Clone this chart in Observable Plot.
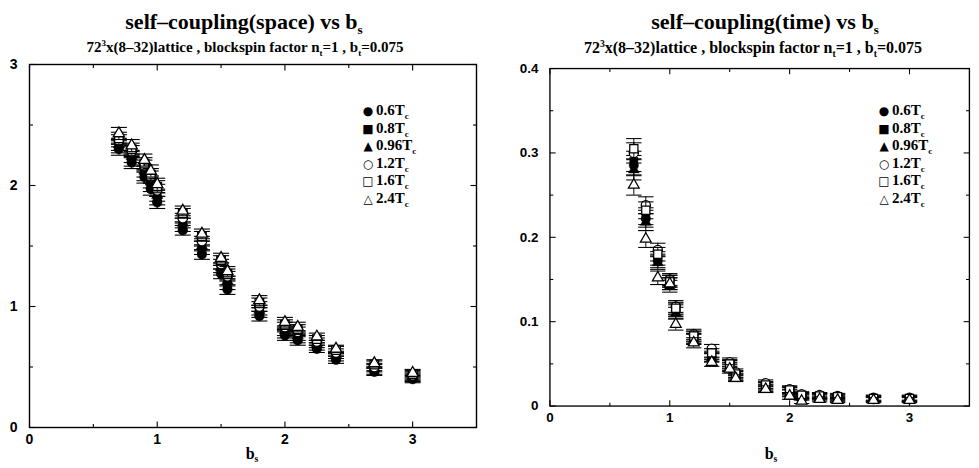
<!DOCTYPE html>
<html>
<head>
<meta charset="utf-8">
<script src="https://cdn.jsdelivr.net/npm/d3@7"></script>
<script src="https://cdn.jsdelivr.net/npm/@observablehq/plot@0.6"></script>
<style>
  html, body { margin: 0; padding: 0; background: #fff; }
  body { width: 979px; height: 468px; overflow: hidden; position: relative; }
  .panel { position: absolute; top: 0; }
  .ttl { position: absolute; font-family: "Liberation Serif", serif; font-weight: bold; white-space: nowrap; transform: translateX(-50%); line-height: 1; color: #000; }
  .ttl sub, .ttl sup, .leg sub { font-size: 60%; line-height: 0; }
  .xl { position: absolute; font-family: "Liberation Serif", serif; font-weight: bold; font-size: 16px; transform: translateX(-50%); line-height: 16px; white-space: nowrap; }
  .xl sub { font-size: 60%; line-height: 0; vertical-align: -3px; }
  .leg { position: absolute; font-family: "Liberation Serif", serif; font-weight: bold; font-size: 15px; line-height: 16.5px; white-space: nowrap; }
  .leg .s { display: inline-block; width: 12px; font-family: "DejaVu Sans", sans-serif; font-size: 12px; font-weight: normal; text-align: center; margin-right: 2px; }
</style>
</head>
<body>
<div id="left" class="panel" style="left:0px"></div>
<div id="right" class="panel" style="left:490px"></div>

<div class="ttl" style="left:244px;top:11px;font-size:22px">self–coupling(space) vs b<sub>s</sub></div>
<div class="ttl" style="left:245px;top:40px;font-size:15px">72<sup>3</sup>x(8–32)lattice , blockspin factor n<sub>t</sub>=1 , b<sub>t</sub>=0.075</div>
<div class="ttl" style="left:765px;top:11px;font-size:22px">self–coupling(time) vs b<sub>s</sub></div>
<div class="ttl" style="left:753px;top:40px;font-size:16px">72<sup>3</sup>x(8–32)lattice , blockspin factor n<sub>t</sub>=1 , b<sub>t</sub>=0.075</div>
<div class="xl" style="left:252px;top:446px">b<sub>s</sub></div>
<div class="xl" style="left:771px;top:446px">b<sub>s</sub></div>
<div id="legL" class="leg" style="left:362px;top:102px"></div>
<div id="legR" class="leg" style="left:878px;top:102px"></div>

<script>
// ---------- data ----------
const temps = ["0.6", "0.8", "0.96", "1.2", "1.6", "2.4"];
const legendGlyphs = ["●", "■", "▲", "○", "□", "△"];

const xTicks = [0, 1, 2, 3];
const xMinor = [0.5, 1.5, 2.5];
const spaceYTicks = [0, 1, 2, 3];
const spaceYMinor = [0.5, 1.5, 2.5];
const timeYTicks = [0, 0.1, 0.2, 0.3, 0.4];
const timeYMinor = [0.05, 0.15, 0.25, 0.35];

// self-coupling (space)
const spaceB = [0.7, 0.8, 0.9, 0.95, 1.0, 1.2, 1.35, 1.5, 1.55, 1.8, 2.0, 2.1, 2.25, 2.4, 2.7, 3.0];
const space_06  = [2.30, 2.19, 2.07, 1.97, 1.86, 1.63, 1.43, 1.27, 1.14, 0.92, 0.76, 0.72, 0.65, 0.56, 0.46, 0.40];
const space_08  = [2.32, 2.21, 2.09, 2.00, 1.89, 1.66, 1.47, 1.30, 1.18, 0.95, 0.78, 0.74, 0.67, 0.58, 0.47, 0.41];
const space_096 = [2.34, 2.24, 2.12, 2.03, 1.92, 1.69, 1.50, 1.32, 1.21, 0.97, 0.80, 0.76, 0.69, 0.60, 0.49, 0.42];
const space_12  = [2.37, 2.28, 2.16, 2.07, 1.96, 1.73, 1.54, 1.35, 1.25, 1.00, 0.83, 0.79, 0.71, 0.62, 0.50, 0.43];
const space_16  = [2.39, 2.30, 2.18, 2.09, 1.99, 1.77, 1.58, 1.38, 1.27, 1.03, 0.85, 0.81, 0.73, 0.64, 0.52, 0.44];
const space_24  = [2.43, 2.33, 2.21, 2.12, 2.01, 1.79, 1.60, 1.40, 1.29, 1.05, 0.87, 0.83, 0.75, 0.65, 0.53, 0.45];
const space_err = [0.05, 0.05, 0.05, 0.05, 0.05, 0.04, 0.04, 0.04, 0.04, 0.04, 0.04, 0.04, 0.03, 0.03, 0.03, 0.03];

// self-coupling (time)
const timeB = [0.7, 0.8, 0.9, 1.0, 1.05, 1.2, 1.35, 1.5, 1.55, 1.8, 2.0, 2.1, 2.25, 2.4, 2.7, 3.0];
const time_06  = [0.285, 0.222, 0.172, 0.145, 0.113, 0.080, 0.058, 0.047, 0.035, 0.022, 0.016, 0.011, 0.011, 0.009, 0.008, 0.008];
const time_08  = [0.290, 0.225, 0.175, 0.148, 0.115, 0.082, 0.060, 0.049, 0.037, 0.024, 0.018, 0.012, 0.012, 0.010, 0.009, 0.009];
const time_096 = [0.280, 0.218, 0.170, 0.142, 0.110, 0.079, 0.057, 0.046, 0.034, 0.021, 0.015, 0.010, 0.010, 0.008, 0.008, 0.008];
const time_12  = [0.300, 0.238, 0.185, 0.150, 0.118, 0.085, 0.068, 0.052, 0.040, 0.027, 0.020, 0.014, 0.013, 0.012, 0.010, 0.010];
const time_16  = [0.305, 0.232, 0.180, 0.148, 0.116, 0.083, 0.063, 0.050, 0.038, 0.025, 0.019, 0.013, 0.012, 0.011, 0.009, 0.009];
const time_24  = [0.262, 0.198, 0.152, 0.145, 0.097, 0.075, 0.052, 0.044, 0.033, 0.020, 0.012, 0.006, 0.008, 0.007, 0.007, 0.007];
const time_err = [0.012, 0.010, 0.008, 0.007, 0.007, 0.006, 0.005, 0.005, 0.004, 0.004, 0.004, 0.003, 0.003, 0.003, 0.003, 0.003];

// ---------- styling ----------
const symbolOf = ["circle", "square", "triangle", "circle", "square", "triangle"];
const filledOf = [true, true, true, false, false, false];
const radiusOf = [4.8, 4.8, 4.2, 4.8, 4.8, 4.2];

const seg = (x1, y1, x2, y2) => ({ draw(ctx) { ctx.moveTo(x1, y1); ctx.lineTo(x2, y2); } });
const capSym = seg(-8, 0, 8, 0);

function buildRows(B, series, err) {
  const rows = [];
  series.forEach((vals, i) => vals.forEach((v, j) => rows.push({ i, t: temps[i], b: B[j], v, e: err[j] })));
  return rows;
}

function panel({ B, series, err, yDomain, yTicks, yMinor, yFmt, width, height, margin }) {
  const rows = buildRows(B, series, err);
  const xMax = 3.5;
  const tickMarks = [];
  const major = 6, minor = 3.5;
  const tick = (data, opts, sym) => Plot.dot(data, { ...opts, symbol: sym, fill: "none", stroke: "black", strokeWidth: 1.1 });
  tickMarks.push(tick(xTicks, { x: d => d, y: () => yDomain[0] }, seg(0, 0, 0, -major)));
  tickMarks.push(tick(xMinor, { x: d => d, y: () => yDomain[0] }, seg(0, 0, 0, -minor)));
  tickMarks.push(tick(xTicks, { x: d => d, y: () => yDomain[1] }, seg(0, 0, 0, major)));
  tickMarks.push(tick(xMinor, { x: d => d, y: () => yDomain[1] }, seg(0, 0, 0, minor)));
  tickMarks.push(tick(yTicks, { x: () => 0, y: d => d }, seg(0, 0, major, 0)));
  tickMarks.push(tick(yMinor, { x: () => 0, y: d => d }, seg(0, 0, minor, 0)));
  tickMarks.push(tick(yTicks, { x: () => xMax, y: d => d }, seg(0, 0, -major, 0)));
  tickMarks.push(tick(yMinor, { x: () => xMax, y: d => d }, seg(0, 0, -minor, 0)));

  const seriesMarks = [];
  temps.forEach((t, i) => {
    const sub = rows.filter(r => r.i === i);
    seriesMarks.push(Plot.ruleX(sub, { x: "b", y1: d => d.v - d.e, y2: d => d.v + d.e, stroke: "black", strokeWidth: 1 }));
    seriesMarks.push(Plot.dot(sub, { x: "b", y: d => d.v - d.e, symbol: capSym, fill: "none", stroke: "black", strokeWidth: 1.1 }));
    seriesMarks.push(Plot.dot(sub, { x: "b", y: d => d.v + d.e, symbol: capSym, fill: "none", stroke: "black", strokeWidth: 1.1 }));
    seriesMarks.push(Plot.dot(sub, {
      x: "b", y: "v", symbol: symbolOf[i], r: radiusOf[i],
      fill: filledOf[i] ? "black" : "white", stroke: "black", strokeWidth: filledOf[i] ? 0.5 : 1.3
    }));
  });

  return Plot.plot({
    width, height,
    marginLeft: margin[0], marginRight: margin[1], marginTop: margin[2], marginBottom: margin[3],
    style: { fontFamily: "Liberation Sans, Arial, sans-serif", fontSize: "14px", fontWeight: "bold", background: "white", overflow: "visible" },
    x: { domain: [0, xMax], ticks: xTicks, tickSize: 0, tickPadding: 7, tickFormat: d => String(d), label: null },
    y: { domain: yDomain, ticks: yTicks, tickSize: 0, tickPadding: 12, tickFormat: yFmt, label: null },
    marks: [
      Plot.frame({ stroke: "black", strokeWidth: 1.4 }),
      ...tickMarks,
      ...seriesMarks
    ]
  });
}

document.getElementById("left").append(panel({
  B: spaceB,
  series: [space_06, space_08, space_096, space_12, space_16, space_24],
  err: space_err,
  yDomain: [0, 3], yTicks: spaceYTicks, yMinor: spaceYMinor,
  yFmt: d => String(d),
  width: 490, height: 468, margin: [29, 14, 64, 41]
}));

document.getElementById("right").append(panel({
  B: timeB,
  series: [time_06, time_08, time_096, time_12, time_16, time_24],
  err: time_err,
  yDomain: [0, 0.4], yTicks: timeYTicks, yMinor: timeYMinor,
  yFmt: d => d === 0 ? "0" : d.toFixed(1),
  width: 510, height: 468, margin: [62, 10.5, 71, 45]
}));

function legend(id) {
  const el = document.getElementById(id);
  temps.forEach((t, i) => {
    const row = document.createElement("div");
    row.innerHTML = `<span class="s">${legendGlyphs[i]}</span>${t}T<sub>c</sub>`;
    el.append(row);
  });
}
legend("legL");
legend("legR");
</script>
</body>
</html>
